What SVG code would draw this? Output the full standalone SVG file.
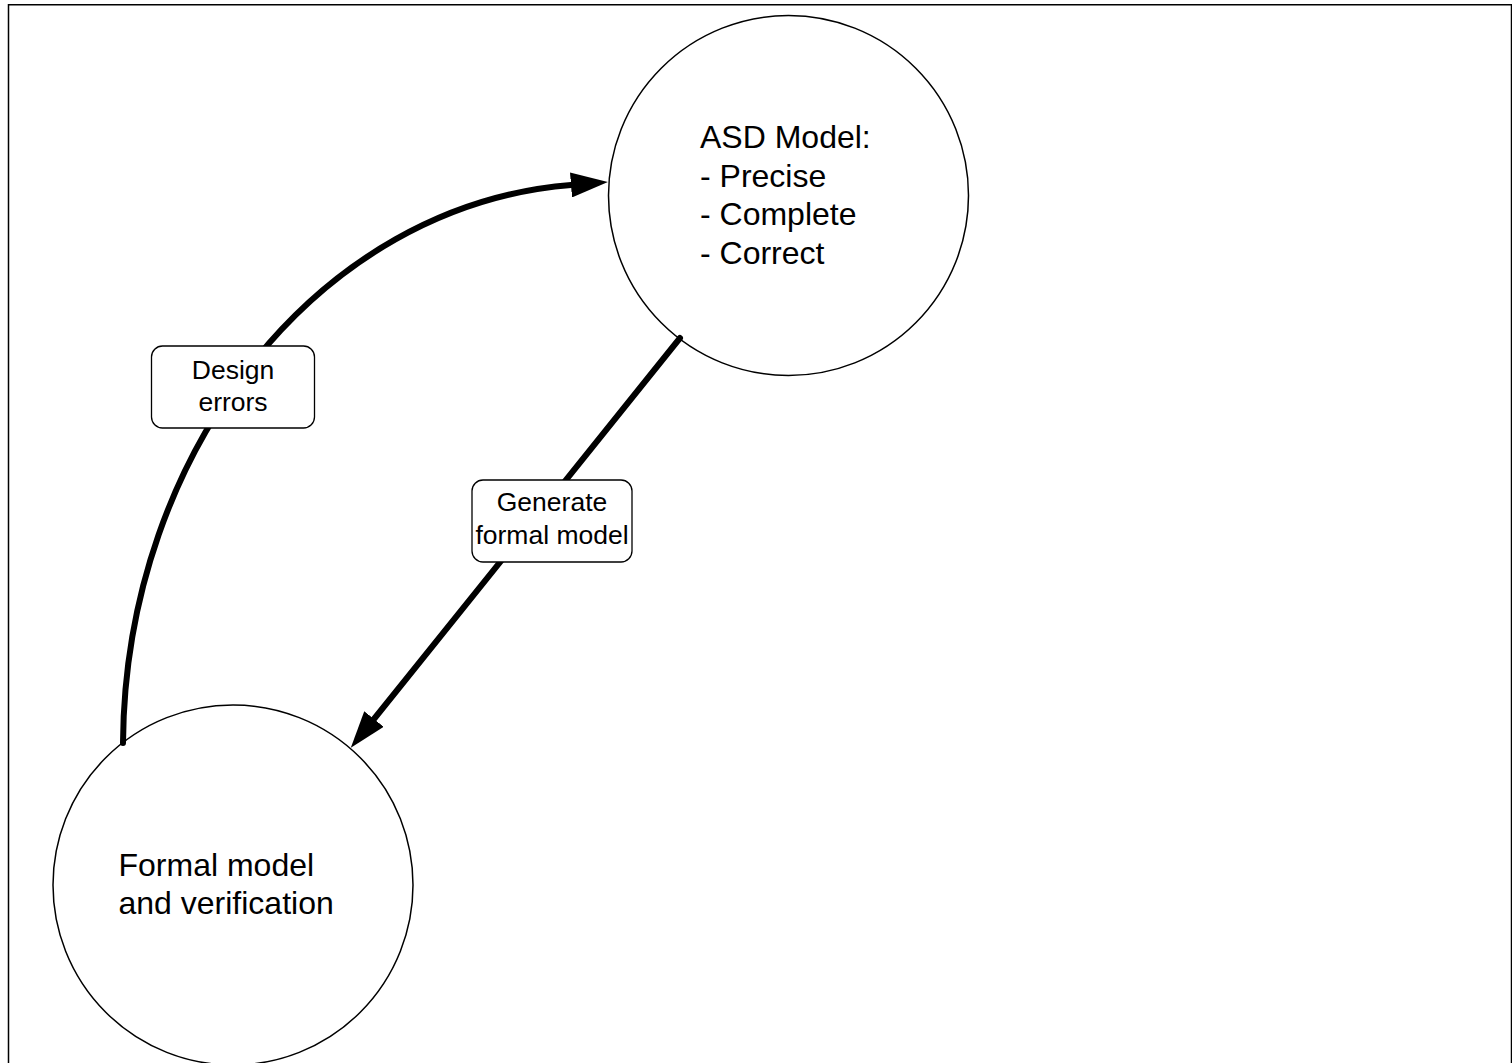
<svg xmlns="http://www.w3.org/2000/svg" width="1512" height="1063" viewBox="0 0 1512 1063">
  <style>
    .frame { fill: #ffffff; stroke: #000000; stroke-width: 1.5; }
    .state { fill: #ffffff; stroke: #000000; stroke-width: 1.5; }
    .state-text { font-family: "Liberation Sans", Arial, sans-serif; font-size: 32px; fill: #000000; }
    .flow { fill: none; stroke: #000000; stroke-width: 6; stroke-linecap: round; }
    .tag { fill: #ffffff; stroke: #000000; stroke-width: 1.3; }
    .tag-text { font-family: "Liberation Sans", Arial, sans-serif; font-size: 26.5px; fill: #000000; text-anchor: middle; }
  </style>
  <defs>
    <marker id="head" viewBox="0 0 37 25" refX="0" refY="12.5" markerWidth="37" markerHeight="25" markerUnits="userSpaceOnUse" orient="auto">
      <path d="M0,0 L37,12.5 L0,25 Z" fill="#000000"/>
    </marker>
  </defs>

  <!-- page frame -->
  <rect class="frame" x="8.5" y="4.75" width="1503" height="1100"/>

  <!-- nodes -->
  <g id="asd-model">
    <circle class="state" cx="788.5" cy="195.5" r="180"/>
    <text class="state-text" x="700" y="148">ASD Model:</text>
    <text class="state-text" x="700" y="186.5">- Precise</text>
    <text class="state-text" x="700" y="225">- Complete</text>
    <text class="state-text" x="700" y="263.5">- Correct</text>
  </g>

  <g id="formal-model">
    <circle class="state" cx="233" cy="885" r="180"/>
    <text class="state-text" x="118.5" y="876">Formal model</text>
    <text class="state-text" x="118.5" y="914">and verification</text>
  </g>

  <!-- connectors -->
  <g id="connectors">
    <path id="design-errors" class="flow" d="M123,743 C125,450 320,205 571,185" marker-end="url(#head)"/>
    <path id="generate-formal" class="flow" d="M680,338 L374,719" marker-end="url(#head)"/>

    <g id="label-design-errors">
      <rect class="tag" x="151.5" y="346" width="163" height="82" rx="11"/>
      <text class="tag-text" x="233" y="379">Design</text>
      <text class="tag-text" x="233" y="411">errors</text>
    </g>
    <g id="label-generate">
      <rect class="tag" x="472" y="480" width="160" height="82" rx="11"/>
      <text class="tag-text" x="552" y="511">Generate</text>
      <text class="tag-text" x="552" y="544">formal model</text>
    </g>
  </g>
</svg>
